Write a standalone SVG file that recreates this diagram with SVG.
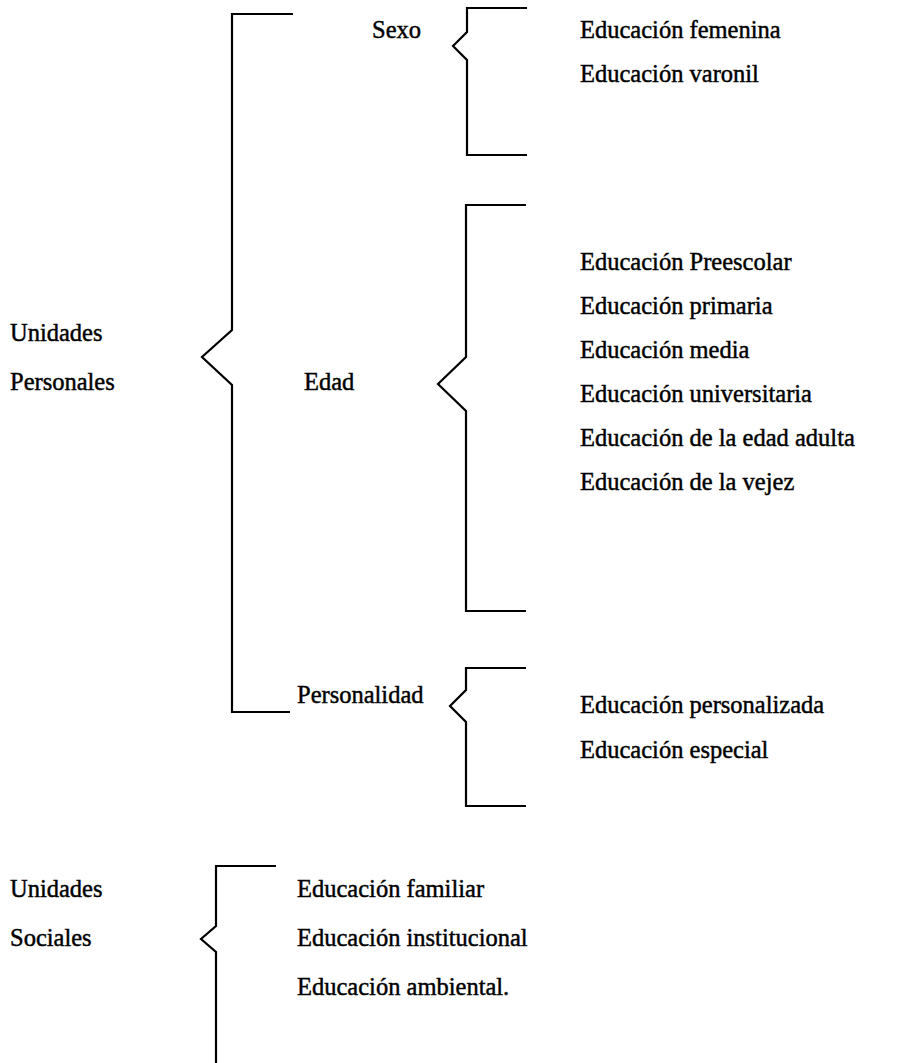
<svg xmlns="http://www.w3.org/2000/svg" width="907" height="1063" viewBox="0 0 907 1063">
<style>
text{font-family:"Liberation Serif","Times New Roman",serif;font-size:24.5px;fill:#000;stroke:#000;stroke-width:0.45}
.br{fill:none;stroke:#000;stroke-width:2.2;stroke-linejoin:miter}
</style>
<rect width="907" height="1063" fill="#fff"/>
<g id="connectors">
<path class="br" d="M293,14 H232 V330 L202,357 L232,385 V712 H290"/>
<path class="br" d="M527,8 H467 V32 L453,46 L467,60 V155 H527"/>
<path class="br" d="M526,205 H466 V357 L438,384 L466,411 V611 H526"/>
<path class="br" d="M526,668 H466 V690 L450,706 L466,722 V806 H526"/>
<path class="br" d="M276,866 H216 V926 L201,939 L216,952 V1063"/>
</g>
<g id="unidades-personales"><text x="10" y="341">Unidades</text><text x="10" y="390">Personales</text></g>
<g id="sexo"><text x="372" y="38">Sexo</text></g>
<g id="sexo-items"><text x="580" y="38">Educación femenina</text><text x="580" y="82">Educación varonil</text></g>
<g id="edad"><text x="304" y="390">Edad</text></g>
<g id="edad-items">
<text x="580" y="270">Educación Preescolar</text>
<text x="580" y="314">Educación primaria</text>
<text x="580" y="358">Educación media</text>
<text x="580" y="402">Educación universitaria</text>
<text x="580" y="446">Educación de la edad adulta</text>
<text x="580" y="490">Educación de la vejez</text>
</g>
<g id="personalidad"><text x="297" y="703">Personalidad</text></g>
<g id="personalidad-items"><text x="580" y="713">Educación personalizada</text><text x="580" y="758">Educación especial</text></g>
<g id="unidades-sociales"><text x="10" y="897">Unidades</text><text x="10" y="946">Sociales</text></g>
<g id="sociales-items"><text x="297" y="897">Educación familiar</text><text x="297" y="946">Educación institucional</text><text x="297" y="995">Educación ambiental.</text></g>
</svg>
